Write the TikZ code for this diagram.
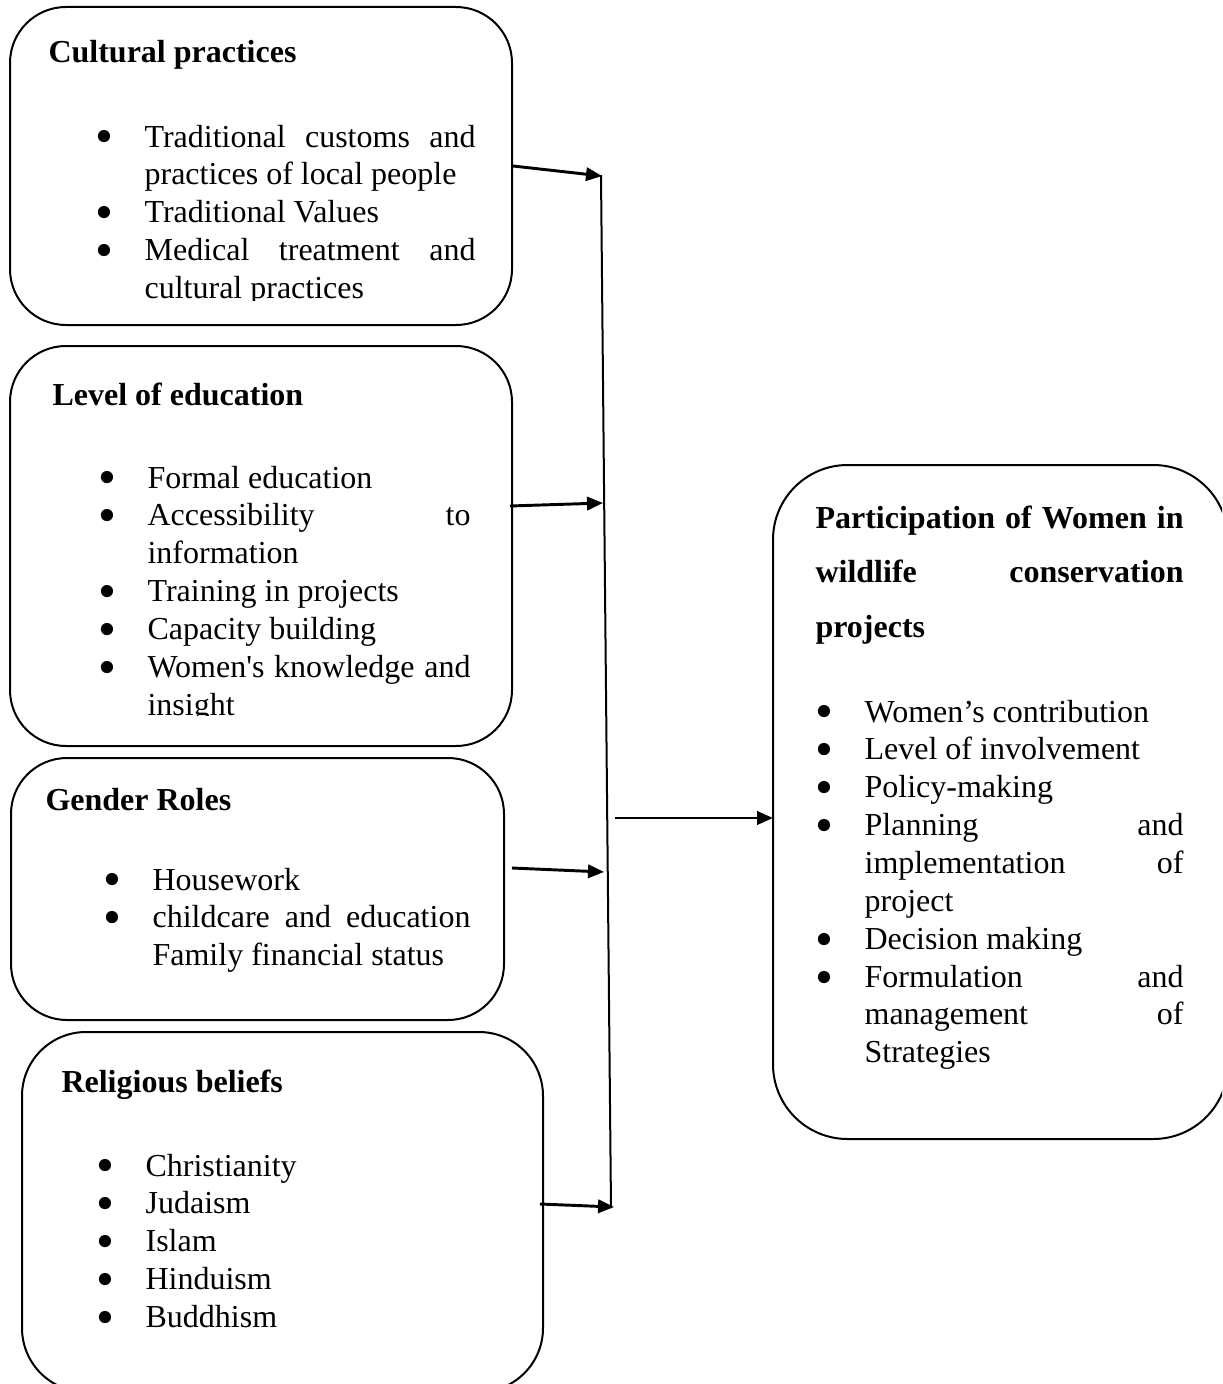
\documentclass[tikz,border=0pt]{standalone}
\usepackage{fontspec}
\setmainfont{Liberation Serif}
\usetikzlibrary{arrows.meta,fit}
\newlength\hg
\setlength\hg{18.4pt}
\newcommand\itm[1]{\hyphenpenalty=10000\relax\hangindent=\hg\hangafter=1\noindent\makebox[\hg][l]{\smash{\raisebox{-2.6pt}{\scalebox{1.6}{\textbullet}}}}#1\par}
\begin{document}
\begin{tikzpicture}[x=0.375pt,y=-0.375pt]
\tikzset{box/.style = {draw, rounded corners=21pt, line width=0.75pt, inner sep=0pt},
  head/.style = {font=\fontsize{12pt}{14.2pt}\selectfont\bfseries, inner sep=0pt, anchor=base west},
  items/.style = {font=\fontsize{12pt}{14.2pt}\selectfont, inner sep=0pt,
    anchor=base west, align=justify, text width=#1},
  arr/.style = {-{Triangle[length=6pt,width=5pt]}, line width=1.1pt}}
\useasboundingbox (0,0) rectangle (1222,1384);
\clip (0,0) rectangle (1222,1384);
\node[box, fit={(10,7) (512,325)}] (cult) {};
\node[box, fit={(10,346) (512,746)}] (edu) {};
\node[box, fit={(11,758) (504,1020)}] (gend) {};
\node[box, rounded corners=24pt, fit={(22,1032) (543,1392)}] (relig) {};
\node[box, rounded corners=28pt, fit={(773,465) (1228,1139)}] (part) {};
\node[head] (culth) at (48,63) {Cultural practices};
\begin{scope}
\clip (0,0) rectangle (1222,300);
\node[items=142.5pt] (cultl) at (95,147) {\itm{Traditional customs and\linebreak practices of local people}\itm{Traditional Values}\itm{Medical treatment and\linebreak cultural practices}};
\end{scope}
\node[head] (eduh) at (52,405) {Level of education};
\begin{scope}
\clip (0,330) rectangle (1222,715);
\node[items=139.5pt] (edul) at (98,488) {\itm{Formal education}\itm{Accessibility to\linebreak information}\itm{Training in projects}\itm{Capacity building}\itm{Women\textquotesingle s knowledge and\linebreak insight}};
\end{scope}
\node[head] (gendh) at (45,810) {Gender Roles};
\node[items=137.6pt] (gendl) at (103,890) {\itm{Housework}\itm{childcare and education\linebreak Family financial status}};
\node[head] (religh) at (61,1092) {Religious beliefs};
\node[items=150pt] (religl) at (96,1176) {\itm{Christianity}\itm{Judaism}\itm{Islam}\itm{Hinduism}\itm{Buddhism}};
\node[head, align=justify, text width=138pt, font=\fontsize{12pt}{20.6pt}\selectfont\bfseries] (parth) at (815,528) {Participation of Women in\linebreak wildlife conservation\linebreak projects};
\node[items=138pt] (partl) at (815,722) {\itm{Women’s contribution}\itm{Level of involvement}\itm{Policy-making}\itm{Planning and\linebreak implementation of\linebreak project}\itm{Decision making}\itm{Formulation and\linebreak management of\linebreak Strategies}};
\coordinate (vt) at (601,175);
\coordinate (vb) at (611,1208);
\coordinate (t1) at (602,176);
\coordinate (s2) at (510,506);
\coordinate (t2) at (603,503);
\coordinate (s3) at (512,868);
\coordinate (t3) at (604,872);
\coordinate (s4) at (540,1204);
\coordinate (t4) at (614,1207);
\coordinate (s5) at (615,818);
\coordinate (t5) at (773,818);
\draw[line width=0.75pt] (vt) to (vb);
\draw[arr] (cult.east) to (t1);
\draw[arr] (s2) to (t2);
\draw[arr] (s3) to (t3);
\draw[arr] (s4) to (t4);
\draw[arr] (s5) to (t5);
\end{tikzpicture}
\end{document}
